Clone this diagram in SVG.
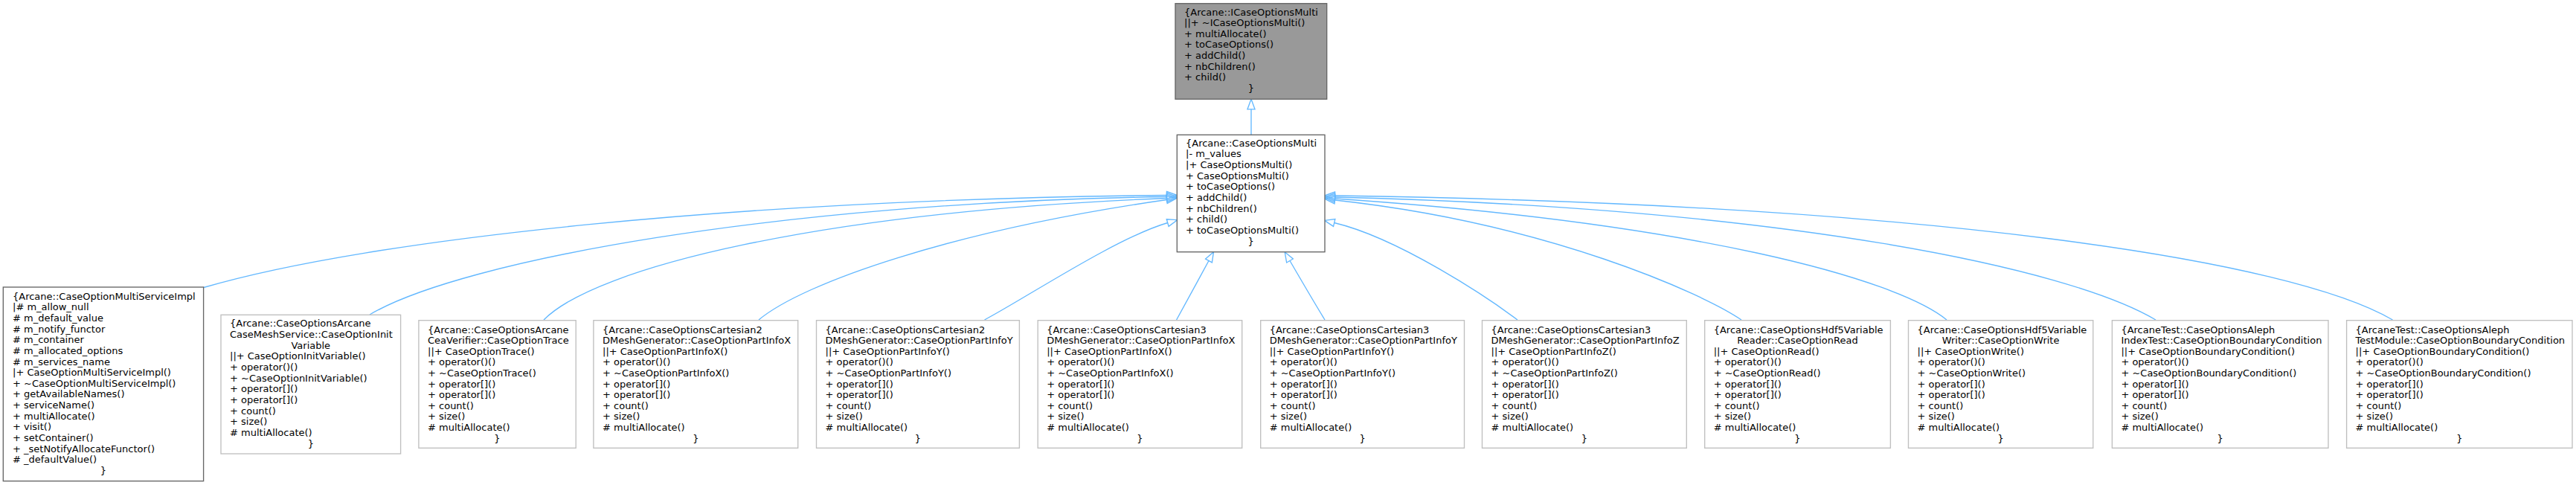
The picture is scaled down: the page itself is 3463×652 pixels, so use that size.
<svg xmlns="http://www.w3.org/2000/svg" width="3463" height="652" viewBox="0 0 3463 652">
<style>
text{font-family:"DejaVu Sans","Liberation Sans",sans-serif;font-size:13px;fill:#000}
.m{text-anchor:middle}
.box{fill:#fff;stroke:#bfbfbf;stroke-width:1.35}
.dark{stroke:#666}
.root{fill:#999;stroke:#666;stroke-width:1.35}
.e{fill:none;stroke:#63b8ff;stroke-width:1.35}
</style>
<defs>
<marker id="ah" markerUnits="userSpaceOnUse" markerWidth="16" markerHeight="14" refX="0" refY="6" orient="auto" overflow="visible">
<path d="M0,1 L13.5,6 L0,11 Z" fill="none" stroke="#63b8ff" stroke-width="1.35"/>
</marker>
</defs>
<rect width="3463" height="652" fill="#fff"/>
<g id="edges">
<path class="e" marker-end="url(#ah)" d="M1682,181.3 L1682,146.8"/>
<path class="e" marker-end="url(#ah)" d="M272,387 C500,320 1000,268 1568.5,262.5"/>
<path class="e" marker-end="url(#ah)" d="M497,423 C620,350 1050,272 1568.5,264.5"/>
<path class="e" marker-end="url(#ah)" d="M731,430 C800,360 1100,285 1568.5,266.5"/>
<path class="e" marker-end="url(#ah)" d="M1020,430 C1080,380 1280,310 1568.5,268.5"/>
<path class="e" marker-end="url(#ah)" d="M1323.5,430 C1380,400 1500,320 1569.7,299.5"/>
<path class="e" marker-end="url(#ah)" d="M1581.6,430 C1590,415 1610,378 1625,350.5"/>
<path class="e" marker-end="url(#ah)" d="M1781,430 C1770,412 1750,378 1734,350.5"/>
<path class="e" marker-end="url(#ah)" d="M2040,430 C2000,400 1880,320 1793.7,299.5"/>
<path class="e" marker-end="url(#ah)" d="M2341,430 C2290,395 2080,300 1794.5,269"/>
<path class="e" marker-end="url(#ah)" d="M2617,430 C2550,375 2280,300 1794.5,267"/>
<path class="e" marker-end="url(#ah)" d="M2898,430 C2780,360 2400,280 1794.5,265"/>
<path class="e" marker-end="url(#ah)" d="M3216.5,430 C3080,350 2600,275 1794.5,263"/>
</g>
<g id="n0">
<rect class="root" x="1580" y="4.7" width="203.7" height="128.6"/>
<text x="1592" y="20.5">{Arcane::ICaseOptionsMulti</text>
<text x="1592" y="35.15">||+ ~ICaseOptionsMulti()</text>
<text x="1592" y="49.8">+ multiAllocate()</text>
<text x="1592" y="64.45">+ toCaseOptions()</text>
<text x="1592" y="79.1">+ addChild()</text>
<text x="1592" y="93.75">+ nbChildren()</text>
<text x="1592" y="108.4">+ child()</text>
<text class="m" x="1681.8" y="123.05">}</text>
</g>
<g id="n1">
<rect class="box dark" x="1582.3" y="181.3" width="198.7" height="157.4"/>
<text x="1594" y="196.8">{Arcane::CaseOptionsMulti</text>
<text x="1594" y="211.45">|- m_values</text>
<text x="1594" y="226.1">|+ CaseOptionsMulti()</text>
<text x="1594" y="240.75">+ CaseOptionsMulti()</text>
<text x="1594" y="255.4">+ toCaseOptions()</text>
<text x="1594" y="270.05">+ addChild()</text>
<text x="1594" y="284.7">+ nbChildren()</text>
<text x="1594" y="299.35">+ child()</text>
<text x="1594" y="314">+ toCaseOptionsMulti()</text>
<text class="m" x="1681.6" y="328.65">}</text>
</g>
<g id="n2">
<rect class="box dark" x="4.3" y="386" width="269.3" height="260.7"/>
<text x="17" y="402.8">{Arcane::CaseOptionMultiServiceImpl</text>
<text x="17" y="417.43">|# m_allow_null</text>
<text x="17" y="432.06"># m_default_value</text>
<text x="17" y="446.69"># m_notify_functor</text>
<text x="17" y="461.32"># m_container</text>
<text x="17" y="475.95"># m_allocated_options</text>
<text x="17" y="490.58"># m_services_name</text>
<text x="17" y="505.21">|+ CaseOptionMultiServiceImpl()</text>
<text x="17" y="519.84">+ ~CaseOptionMultiServiceImpl()</text>
<text x="17" y="534.47">+ getAvailableNames()</text>
<text x="17" y="549.1">+ serviceName()</text>
<text x="17" y="563.73">+ multiAllocate()</text>
<text x="17" y="578.36">+ visit()</text>
<text x="17" y="592.99">+ setContainer()</text>
<text x="17" y="607.62">+ _setNotifyAllocateFunctor()</text>
<text x="17" y="622.25"># _defaultValue()</text>
<text class="m" x="139" y="636.88">}</text>
</g>
<g id="n3">
<rect class="box" x="297" y="423.3" width="241.6" height="186.7"/>
<text x="309" y="439.1">{Arcane::CaseOptionsArcane</text>
<text x="309" y="453.8">CaseMeshService::CaseOptionInit</text>
<text class="m" x="417.8" y="468.5">Variable</text>
<text x="309" y="483.2">||+ CaseOptionInitVariable()</text>
<text x="309" y="497.9">+ operator()()</text>
<text x="309" y="512.6">+ ~CaseOptionInitVariable()</text>
<text x="309" y="527.3">+ operator[]()</text>
<text x="309" y="542">+ operator[]()</text>
<text x="309" y="556.7">+ count()</text>
<text x="309" y="571.4">+ size()</text>
<text x="309" y="586.1"># multiAllocate()</text>
<text class="m" x="417.8" y="600.8">}</text>
</g>
<g id="n4">
<rect class="box" x="562.9" y="430.7" width="211.3" height="171.6"/>
<text x="575" y="447.5">{Arcane::CaseOptionsArcane</text>
<text x="575" y="462.12">CeaVerifier::CaseOptionTrace</text>
<text x="575" y="476.74">||+ CaseOptionTrace()</text>
<text x="575" y="491.36">+ operator()()</text>
<text x="575" y="505.98">+ ~CaseOptionTrace()</text>
<text x="575" y="520.6">+ operator[]()</text>
<text x="575" y="535.22">+ operator[]()</text>
<text x="575" y="549.84">+ count()</text>
<text x="575" y="564.46">+ size()</text>
<text x="575" y="579.08"># multiAllocate()</text>
<text class="m" x="668.5" y="593.7">}</text>
</g>
<g id="n5">
<rect class="box" x="797.9" y="430.7" width="274.8" height="171.6"/>
<text x="810" y="447.5">{Arcane::CaseOptionsCartesian2</text>
<text x="810" y="462.12">DMeshGenerator::CaseOptionPartInfoX</text>
<text x="810" y="476.74">||+ CaseOptionPartInfoX()</text>
<text x="810" y="491.36">+ operator()()</text>
<text x="810" y="505.98">+ ~CaseOptionPartInfoX()</text>
<text x="810" y="520.6">+ operator[]()</text>
<text x="810" y="535.22">+ operator[]()</text>
<text x="810" y="549.84">+ count()</text>
<text x="810" y="564.46">+ size()</text>
<text x="810" y="579.08"># multiAllocate()</text>
<text class="m" x="935.3" y="593.7">}</text>
</g>
<g id="n6">
<rect class="box" x="1097.5" y="430.7" width="272.9" height="171.6"/>
<text x="1109.5" y="447.5">{Arcane::CaseOptionsCartesian2</text>
<text x="1109.5" y="462.12">DMeshGenerator::CaseOptionPartInfoY</text>
<text x="1109.5" y="476.74">||+ CaseOptionPartInfoY()</text>
<text x="1109.5" y="491.36">+ operator()()</text>
<text x="1109.5" y="505.98">+ ~CaseOptionPartInfoY()</text>
<text x="1109.5" y="520.6">+ operator[]()</text>
<text x="1109.5" y="535.22">+ operator[]()</text>
<text x="1109.5" y="549.84">+ count()</text>
<text x="1109.5" y="564.46">+ size()</text>
<text x="1109.5" y="579.08"># multiAllocate()</text>
<text class="m" x="1234" y="593.7">}</text>
</g>
<g id="n7">
<rect class="box" x="1395.2" y="430.7" width="274.5" height="171.6"/>
<text x="1407.2" y="447.5">{Arcane::CaseOptionsCartesian3</text>
<text x="1407.2" y="462.12">DMeshGenerator::CaseOptionPartInfoX</text>
<text x="1407.2" y="476.74">||+ CaseOptionPartInfoX()</text>
<text x="1407.2" y="491.36">+ operator()()</text>
<text x="1407.2" y="505.98">+ ~CaseOptionPartInfoX()</text>
<text x="1407.2" y="520.6">+ operator[]()</text>
<text x="1407.2" y="535.22">+ operator[]()</text>
<text x="1407.2" y="549.84">+ count()</text>
<text x="1407.2" y="564.46">+ size()</text>
<text x="1407.2" y="579.08"># multiAllocate()</text>
<text class="m" x="1532.5" y="593.7">}</text>
</g>
<g id="n8">
<rect class="box" x="1694.7" y="430.7" width="273.8" height="171.6"/>
<text x="1706.7" y="447.5">{Arcane::CaseOptionsCartesian3</text>
<text x="1706.7" y="462.12">DMeshGenerator::CaseOptionPartInfoY</text>
<text x="1706.7" y="476.74">||+ CaseOptionPartInfoY()</text>
<text x="1706.7" y="491.36">+ operator()()</text>
<text x="1706.7" y="505.98">+ ~CaseOptionPartInfoY()</text>
<text x="1706.7" y="520.6">+ operator[]()</text>
<text x="1706.7" y="535.22">+ operator[]()</text>
<text x="1706.7" y="549.84">+ count()</text>
<text x="1706.7" y="564.46">+ size()</text>
<text x="1706.7" y="579.08"># multiAllocate()</text>
<text class="m" x="1831.6" y="593.7">}</text>
</g>
<g id="n9">
<rect class="box" x="1992.5" y="430.7" width="274.8" height="171.6"/>
<text x="2004.5" y="447.5">{Arcane::CaseOptionsCartesian3</text>
<text x="2004.5" y="462.12">DMeshGenerator::CaseOptionPartInfoZ</text>
<text x="2004.5" y="476.74">||+ CaseOptionPartInfoZ()</text>
<text x="2004.5" y="491.36">+ operator()()</text>
<text x="2004.5" y="505.98">+ ~CaseOptionPartInfoZ()</text>
<text x="2004.5" y="520.6">+ operator[]()</text>
<text x="2004.5" y="535.22">+ operator[]()</text>
<text x="2004.5" y="549.84">+ count()</text>
<text x="2004.5" y="564.46">+ size()</text>
<text x="2004.5" y="579.08"># multiAllocate()</text>
<text class="m" x="2129.9" y="593.7">}</text>
</g>
<g id="n10">
<rect class="box" x="2291.7" y="430.7" width="249.7" height="171.6"/>
<text x="2303.7" y="447.5">{Arcane::CaseOptionsHdf5Variable</text>
<text class="m" x="2416.5" y="462.12">Reader::CaseOptionRead</text>
<text x="2303.7" y="476.74">||+ CaseOptionRead()</text>
<text x="2303.7" y="491.36">+ operator()()</text>
<text x="2303.7" y="505.98">+ ~CaseOptionRead()</text>
<text x="2303.7" y="520.6">+ operator[]()</text>
<text x="2303.7" y="535.22">+ operator[]()</text>
<text x="2303.7" y="549.84">+ count()</text>
<text x="2303.7" y="564.46">+ size()</text>
<text x="2303.7" y="579.08"># multiAllocate()</text>
<text class="m" x="2416.5" y="593.7">}</text>
</g>
<g id="n11">
<rect class="box" x="2565.5" y="430.7" width="248.3" height="171.6"/>
<text x="2577.5" y="447.5">{Arcane::CaseOptionsHdf5Variable</text>
<text class="m" x="2689.6" y="462.12">Writer::CaseOptionWrite</text>
<text x="2577.5" y="476.74">||+ CaseOptionWrite()</text>
<text x="2577.5" y="491.36">+ operator()()</text>
<text x="2577.5" y="505.98">+ ~CaseOptionWrite()</text>
<text x="2577.5" y="520.6">+ operator[]()</text>
<text x="2577.5" y="535.22">+ operator[]()</text>
<text x="2577.5" y="549.84">+ count()</text>
<text x="2577.5" y="564.46">+ size()</text>
<text x="2577.5" y="579.08"># multiAllocate()</text>
<text class="m" x="2689.6" y="593.7">}</text>
</g>
<g id="n12">
<rect class="box" x="2839.4" y="430.7" width="290.6" height="171.6"/>
<text x="2851.4" y="447.5">{ArcaneTest::CaseOptionsAleph</text>
<text x="2851.4" y="462.12">IndexTest::CaseOptionBoundaryCondition</text>
<text x="2851.4" y="476.74">||+ CaseOptionBoundaryCondition()</text>
<text x="2851.4" y="491.36">+ operator()()</text>
<text x="2851.4" y="505.98">+ ~CaseOptionBoundaryCondition()</text>
<text x="2851.4" y="520.6">+ operator[]()</text>
<text x="2851.4" y="535.22">+ operator[]()</text>
<text x="2851.4" y="549.84">+ count()</text>
<text x="2851.4" y="564.46">+ size()</text>
<text x="2851.4" y="579.08"># multiAllocate()</text>
<text class="m" x="2984.7" y="593.7">}</text>
</g>
<g id="n13">
<rect class="box" x="3154.6" y="430.7" width="303.4" height="171.6"/>
<text x="3166.6" y="447.5">{ArcaneTest::CaseOptionsAleph</text>
<text x="3166.6" y="462.12">TestModule::CaseOptionBoundaryCondition</text>
<text x="3166.6" y="476.74">||+ CaseOptionBoundaryCondition()</text>
<text x="3166.6" y="491.36">+ operator()()</text>
<text x="3166.6" y="505.98">+ ~CaseOptionBoundaryCondition()</text>
<text x="3166.6" y="520.6">+ operator[]()</text>
<text x="3166.6" y="535.22">+ operator[]()</text>
<text x="3166.6" y="549.84">+ count()</text>
<text x="3166.6" y="564.46">+ size()</text>
<text x="3166.6" y="579.08"># multiAllocate()</text>
<text class="m" x="3306.3" y="593.7">}</text>
</g>
</svg>
